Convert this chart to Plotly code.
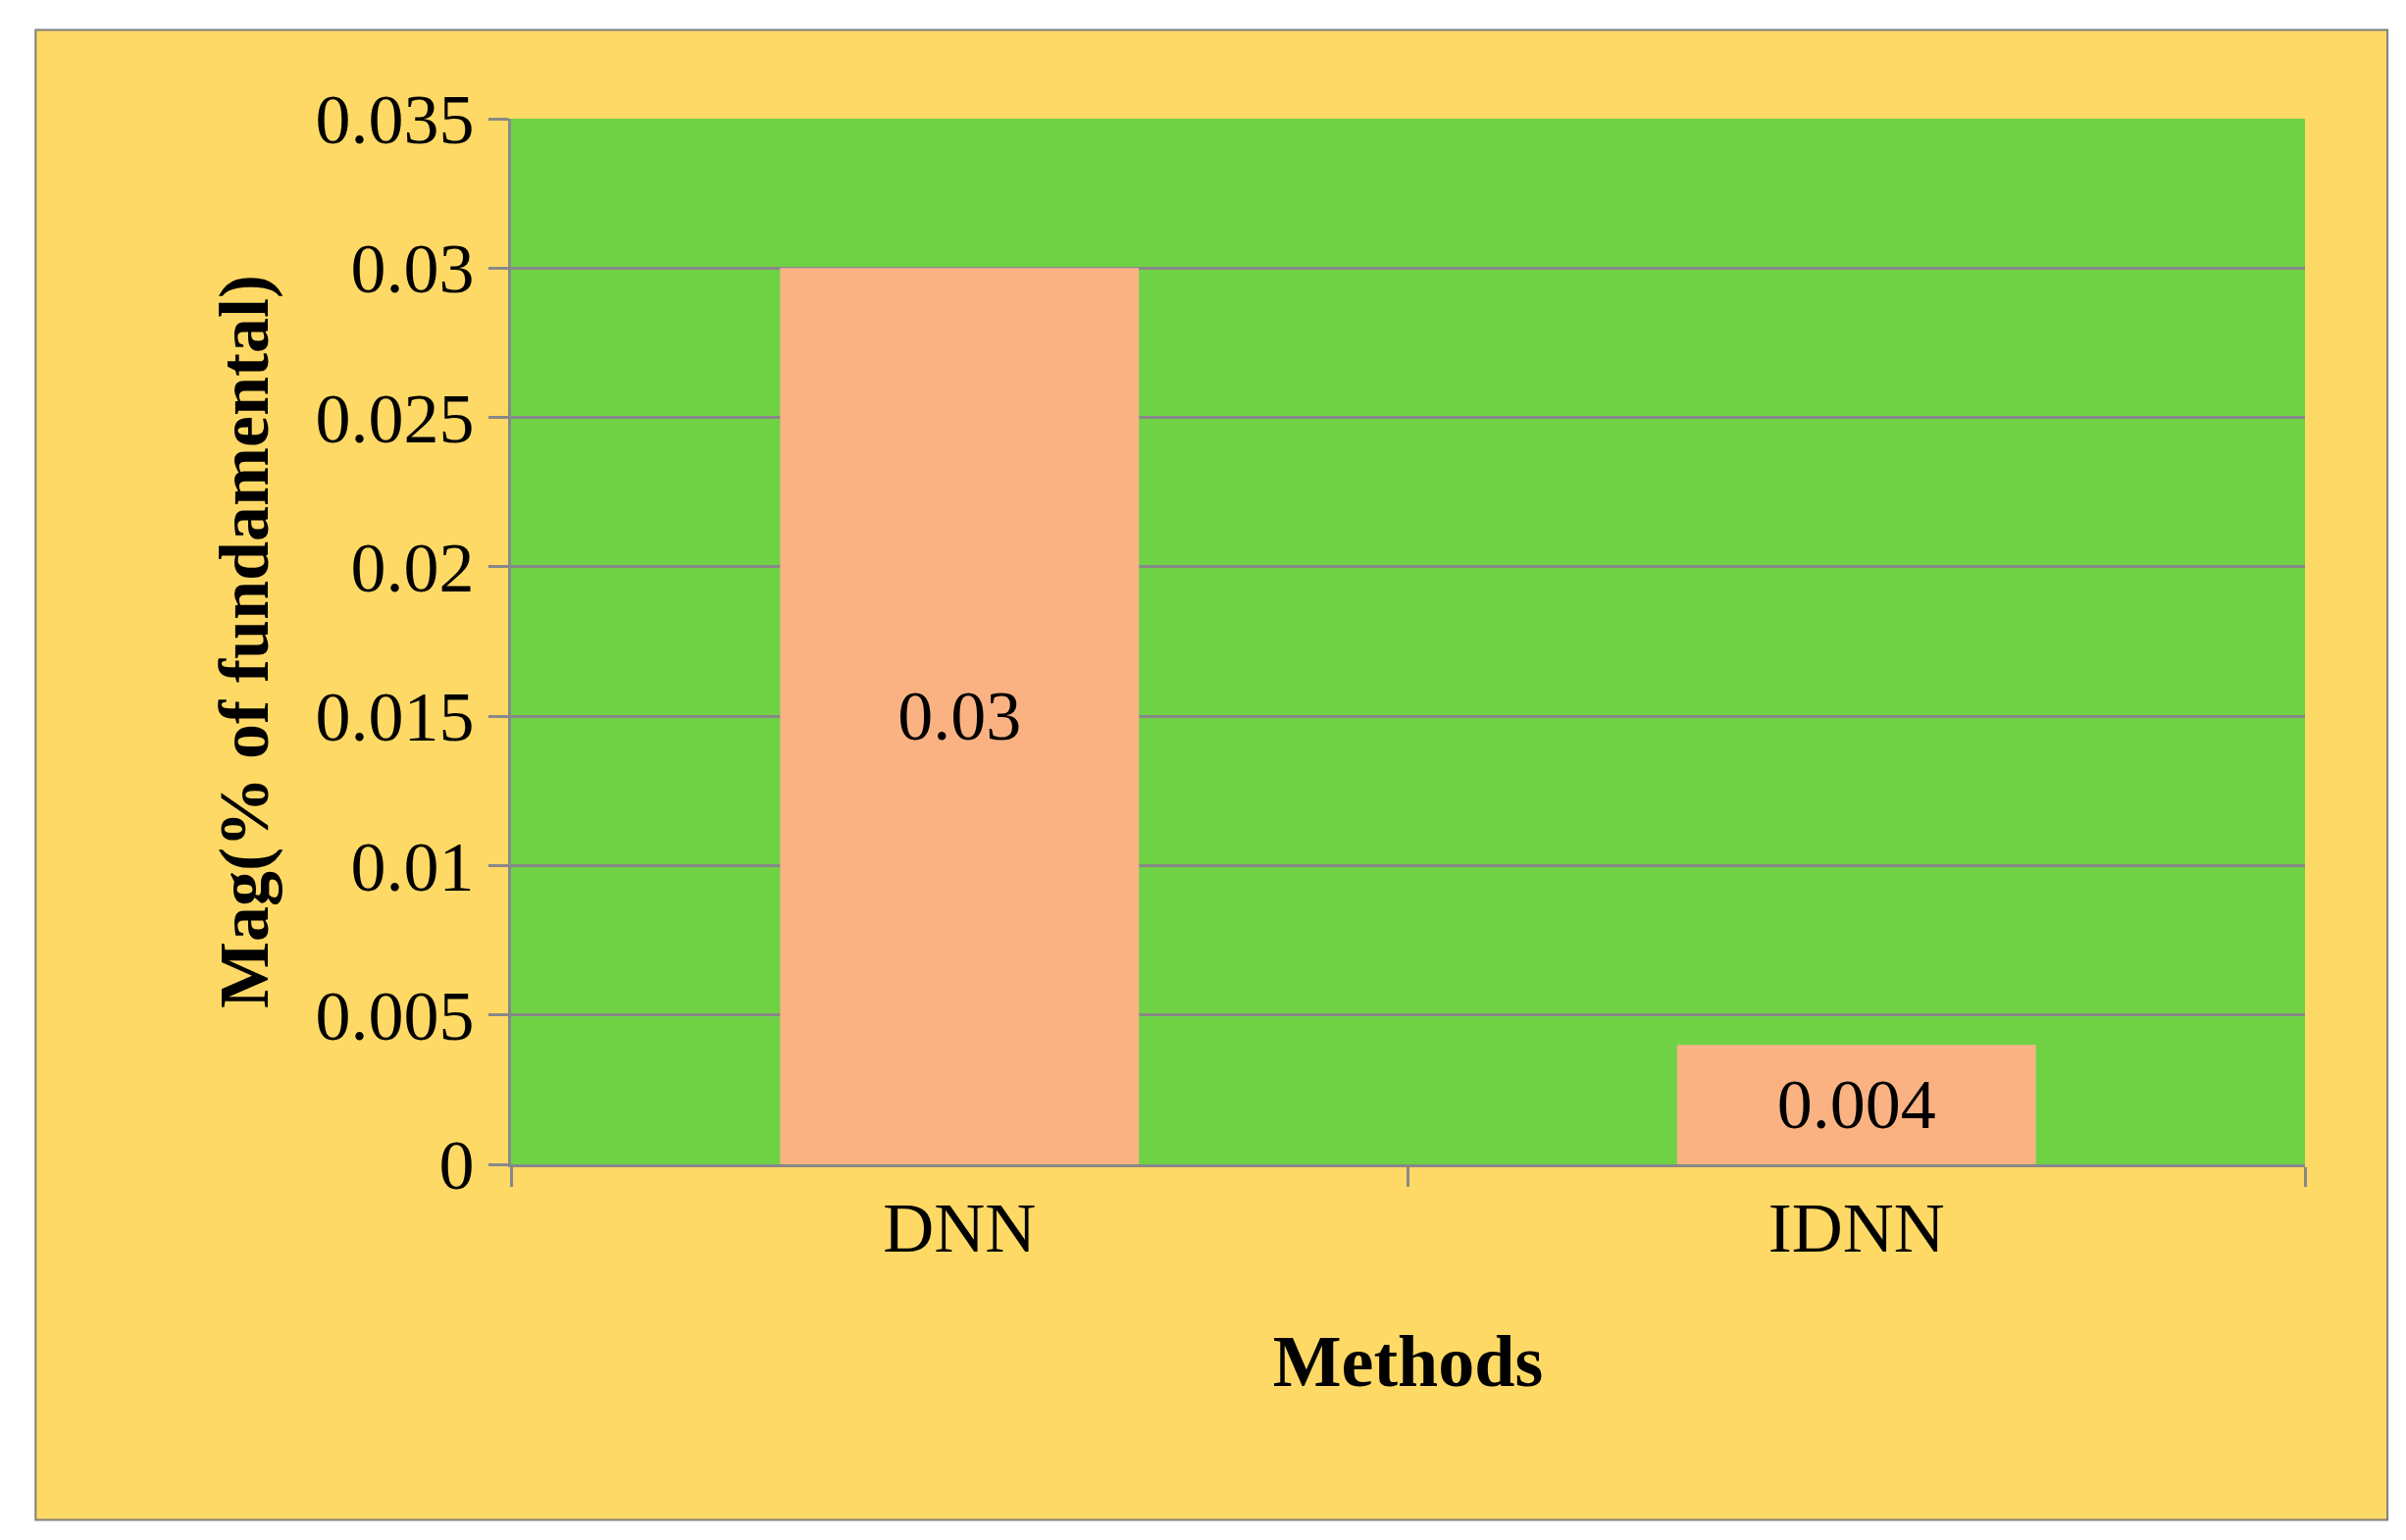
import plotly.graph_objects as go

methods = ["DNN", "IDNN"]
mag = [0.03, 0.004]
labels = ["0.03", "0.004"]
ytick_vals = [0, 0.005, 0.01, 0.015, 0.02, 0.025, 0.03, 0.035]
ytick_text = ["0", "0.005", "0.01", "0.015", "0.02", "0.025", "0.03", "0.035"]

fig = go.Figure()
fig.add_trace(go.Bar(
    x=methods, y=mag, text=labels, width=0.4,
    marker=dict(color="#FBB283", line=dict(width=0)),
    textposition="inside", insidetextanchor="middle", textangle=0,
    textfont=dict(family="Liberation Serif", size=72, color="black"),
))

# outer yellow frame and green plot area
fig.add_shape(type="rect", xref="paper", yref="paper",
              x0=-0.265, x1=1.046, y0=-0.340, y1=1.085,
              fillcolor="#FFD966", line=dict(color="#7F7F7F", width=2), layer="below")
fig.add_shape(type="rect", xref="paper", yref="paper",
              x0=0, x1=1, y0=0, y1=1,
              fillcolor="#6FD245", line=dict(width=0), layer="below")

fig.update_layout(
    width=2453, height=1570,
    margin=dict(l=513, r=111, t=113, b=391),
    paper_bgcolor="white", plot_bgcolor="rgba(0,0,0,0)",
    showlegend=False,
    font=dict(family="Liberation Serif", color="black"),
    xaxis=dict(
        title=dict(text="<b>Methods</b>", font=dict(size=74), standoff=70),
        tickfont=dict(size=72), tickson="boundaries", ticks="outside",
        ticklen=20, tickcolor="#888888", tickwidth=3,
        showline=True, linecolor="#888888", linewidth=3, showgrid=False,
    ),
    yaxis=dict(
        title=dict(text="<b>Mag(% of fundamental)</b>", font=dict(size=72), standoff=25),
        range=[0, 0.035], tickvals=ytick_vals, ticktext=ytick_text,
        tickfont=dict(size=72), ticks="outside", ticklen=20,
        tickcolor="#888888", tickwidth=3,
        showline=True, linecolor="#888888", linewidth=3,
        gridcolor="#888888", gridwidth=3, zeroline=False,
    ),
)

fig.write_html("out.html")
